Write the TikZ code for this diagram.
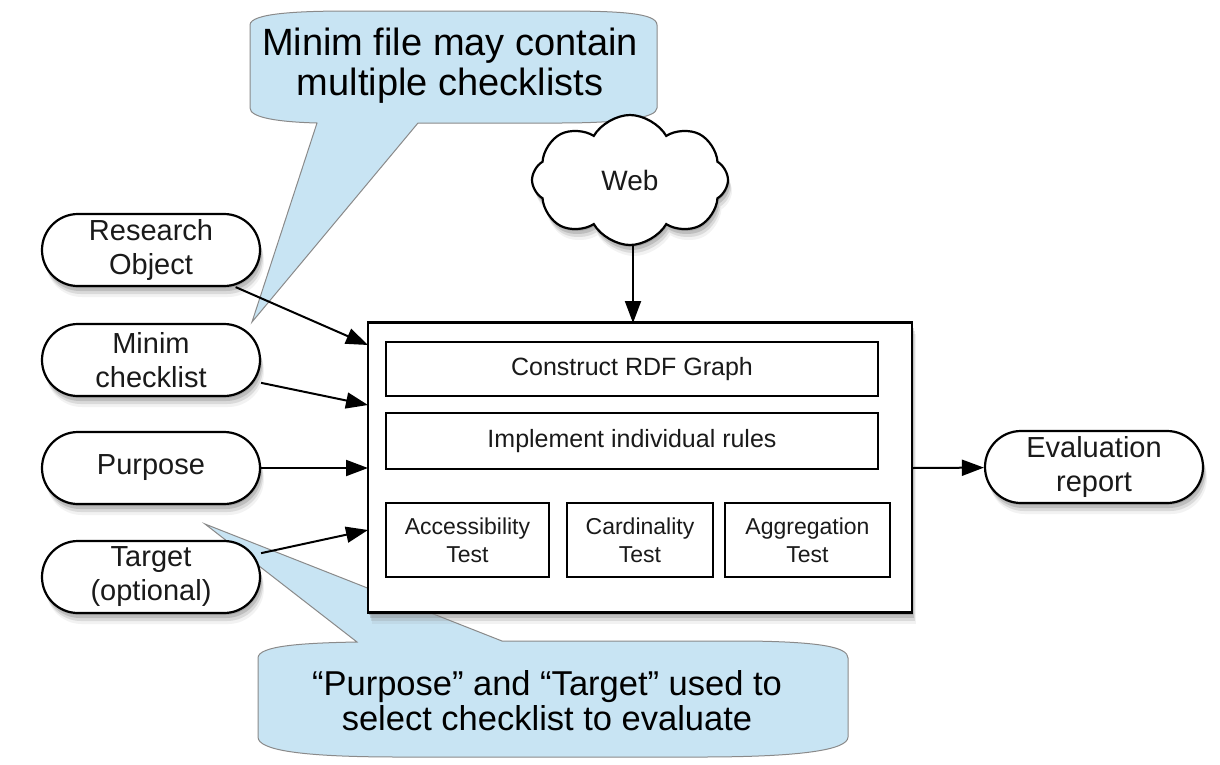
\documentclass[tikz,border=0pt]{standalone}
\usepackage{fontspec}
\setmainfont{Liberation Sans}
\usetikzlibrary{shapes.symbols,shadows,arrows.meta}
\definecolor{calloutblue}{HTML}{C8E4F3}
\definecolor{calloutline}{HTML}{8A8A8A}
\definecolor{inktext}{HTML}{1A1A1A}
\tikzset{
  softshadow/.style={
    drop shadow={shadow xshift=1pt,shadow yshift=-2pt,opacity=0.40},
    drop shadow={shadow xshift=2pt,shadow yshift=-5pt,opacity=0.30},
    drop shadow={shadow xshift=3pt,shadow yshift=-8pt,opacity=0.20},
    drop shadow={shadow xshift=4pt,shadow yshift=-11pt,opacity=0.10}},
  pill/.style={draw=black, line width=2.2pt, fill=white, rounded corners=36pt,
    minimum width=218pt, minimum height=72pt, align=center, inner sep=0pt,
    text=inktext, font=\fontsize{29}{34}\selectfont, softshadow},
  mainbox/.style={draw=black, line width=2.4pt, fill=white, minimum width=544pt,
    minimum height=290pt, inner sep=0pt, softshadow},
  stagebox/.style={draw=black, line width=2.2pt, fill=white, inner sep=0pt,
    align=center, text=inktext, font=\fontsize{23}{28}\selectfont},
  webcloud/.style={cloud, cloud puffs=8, cloud puff arc=120, aspect=1.5,
    draw=black, line width=2.2pt, fill=white, minimum width=196pt,
    minimum height=130pt, inner sep=0pt, text=inktext,
    font=\fontsize{28}{32}\selectfont, softshadow},
  callout/.style={fill=calloutblue, draw=calloutline, line width=1pt},
  callouttext/.style={align=center, text=black, inner sep=0pt},
  conn/.style={line width=2pt, -{Triangle[length=22pt,width=16pt]}}
}
\begin{document}
\begin{tikzpicture}[x=1pt,y=-1pt]
\fill[white] (0,0) rectangle (1220,764);
\path[use as bounding box] (0,0) rectangle (1220,764);

% top callout
\path[callout] (250,25) .. controls (250,13) and (300,11) .. (350,11)
  -- (560,11) .. controls (620,11) and (657,13) .. (657,25)
  -- (657,108) .. controls (657,118) and (620,123) .. (560,123)
  -- (418,123) -- (252,322) -- (317,123)
  .. controls (280,122) and (250,118) .. (250,108) -- cycle;
\node[callouttext, font=\fontsize{38}{40}\selectfont] (topnote) at (450,66)
  {Minim file may contain\\multiple checklists};

% bottom callout
\path[callout] (258,658) .. controls (258,646) and (300,643) .. (357,642)
  -- (205,524) -- (502,641) -- (750,641)
  .. controls (820,642) and (848,647) .. (848,658)
  -- (848,737) .. controls (848,750) and (800,757) .. (700,757)
  -- (400,757) .. controls (300,757) and (258,750) .. (258,737) -- cycle;
\node[callouttext, font=\fontsize{34.5}{35}\selectfont] (bottomnote) at (547,701)
  {“Purpose” and “Target” used to\\select checklist to evaluate};

% web cloud
\node[webcloud] (web) at (630,180) {Web};

% main box and stages
\node[mainbox] (main) at (640,467.5) {};
\node[stagebox, minimum width=492pt, minimum height=54pt, font=\fontsize{25}{28}\selectfont] (rdf) at (632,369) {Construct RDF Graph};
\node[stagebox, minimum width=492pt, minimum height=56pt, font=\fontsize{25}{28}\selectfont] (rules) at (632,441) {Implement individual rules};
\node[stagebox, minimum width=163pt, minimum height=74pt] (acc) at (467.5,540) {Accessibility\\Test};
\node[stagebox, minimum width=146pt, minimum height=74pt] (card) at (640,540) {Cardinality\\Test};
\node[stagebox, minimum width=165pt, minimum height=74pt] (aggr) at (807.5,540) {Aggregation\\Test};

% input pills
\node[pill] (ro) at (151,250) {Research\\Object};
\node[pill] (minim) at (151,360) {Minim\\checklist};
\node[pill] (purpose) at (151,468) {Purpose};
\node[pill] (target) at (151,577) {Target\\(optional)};
\node[pill] (eval) at (1094,467) {Evaluation\\report};

% connector end points on the main box
\coordinate (inro) at (368,345);
\coordinate (inminim) at (368,405);
\coordinate (inpurpose) at (368,468);
\coordinate (intarget) at (368,530);
\coordinate (inweb) at (633,323);
\coordinate (outeval) at (912,468);

\draw[conn] (ro) -- (inro);
\draw[conn] (minim) -- (inminim);
\draw[conn] (purpose) -- (inpurpose);
\draw[conn] (target) -- (intarget);
\draw[conn] (web.south -| inweb) -- (inweb);
\draw[conn] (outeval) -- (eval);
\end{tikzpicture}
\end{document}
